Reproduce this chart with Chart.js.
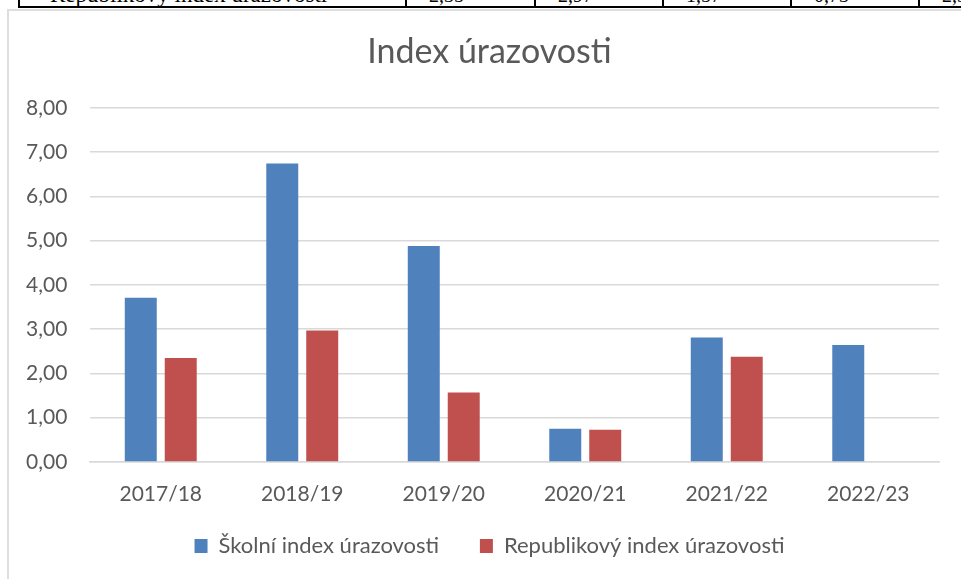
<!DOCTYPE html>
<html lang="cs">
<head>
<meta charset="utf-8">
<title>Index úrazovosti</title>
<script src="https://cdn.jsdelivr.net/npm/chart.js@4/dist/chart.umd.min.js"></script>
<style>
    html, body { margin: 0; padding: 0; background: #fff; }
    body { width: 961px; height: 579px; position: relative; overflow: hidden; }
    #table-strip {
        position: absolute; left: 18px; top: -2px; width: 960px; height: 8px;
        border-left: 2px solid #000; border-bottom: 2px solid #000;
        overflow: hidden; font-family: "Liberation Serif", "DejaVu Serif", serif;
    }
    #table-strip span { position: absolute; top: -13px; line-height: 20px; white-space: nowrap; color: #000; }
    #table-strip .cell-line { position: absolute; top: 0; width: 2px; height: 10px; background: #000; }
    #frame {
        position: absolute; left: 7px; top: 9px; width: 1000px; height: 600px;
        border-left: 2px solid #dedede; border-top: 2px solid #dedede;
    }
    #chartBox { position: absolute; left: 0; top: 0; width: 961px; height: 579px; }
</style>
</head>
<body>
<div id="table-strip"></div>
<div id="frame"></div>
<div id="chartBox"><canvas id="barCanvas"></canvas></div>
<script>
const years = ["2017/18", "2018/19", "2019/20", "2020/21", "2021/22", "2022/23"];
const school_index = [3.71, 6.74, 4.88, 0.75, 2.81, 2.64];
const republic_index = [2.35, 2.97, 1.57, 0.73, 2.38, null];
const y_ticks = [0, 1, 2, 3, 4, 5, 6, 7, 8];

const FONT = "Lato, 'Open Sans', sans-serif";

function formatCz(value) {
    return value.toFixed(2).replace('.', ',');
}

// kousek tabulky nad grafem (oříznutý)
let strip = document.getElementById("table-strip");
let label = document.createElement("span");
label.textContent = "Republikový index úrazovosti";
label.style.left = "30px";
label.style.fontSize = "23px";
strip.appendChild(label);
let dividers = [385, 514, 642, 770, 898];
for (let i = 0; i < dividers.length; i++) {
    let line = document.createElement("div");
    line.className = "cell-line";
    line.style.left = dividers[i] + "px";
    strip.appendChild(line);
    if (republic_index[i] !== null) {
        let val = document.createElement("span");
        val.textContent = formatCz(republic_index[i]);
        val.style.left = (dividers[i] + 24) + "px";
        val.style.fontSize = "20px";
        strip.appendChild(val);
    }
}

Chart.defaults.font.family = FONT;
Chart.defaults.color = "#595959";

barCanvas = document.getElementById("barCanvas");

barChart = new Chart(barCanvas, {
    type: "bar",
    data: {
        labels: years,
        datasets: [{
            label: "Školní index úrazovosti",
            data: school_index,
            backgroundColor: "#4f81bd",
            categoryPercentage: 0.565,
            barPercentage: 0.8
        }, {
            label: "Republikový index úrazovosti",
            data: republic_index,
            backgroundColor: "#c0504d",
            categoryPercentage: 0.565,
            barPercentage: 0.8
        }]
    },
    options: {
        responsive: true,
        maintainAspectRatio: false,
        animation: false,
        layout: { padding: { left: 40, right: 22, top: 10, bottom: 12 } },
        scales: {
            x: {
                grid: { display: false, drawTicks: false },
                border: { display: true, color: "#d9d9d9", width: 1.5 },
                ticks: { font: { size: 21 }, padding: 20, maxRotation: 0, autoSkip: false },
                afterFit: function(axis) { axis.height = 46; }
            },
            y: {
                min: 0,
                max: 8,
                afterBuildTicks: function(axis) {
                    axis.ticks = y_ticks.map(v => ({ value: v }));
                },
                grid: { color: "#d9d9d9", lineWidth: 1.5, drawTicks: false },
                border: { display: false },
                ticks: {
                    font: { size: 21 },
                    mirror: true, // popisky vlevo od osy, bez ořezu
                    padding: -64,
                    callback: function(value) {
                        return formatCz(value);
                    }
                },
                afterFit: function(axis) { axis.width = 50; }
            }
        },
        plugins: {
            title: {
                display: true,
                text: "Index úrazovosti",
                color: "#595959",
                font: { size: 34, weight: "normal" },
                padding: { top: 22, bottom: 35 }
            },
            legend: {
                position: "bottom",
                labels: {
                    boxWidth: 13,
                    boxHeight: 14,
                    padding: 27,
                    font: { size: 22 },
                    color: "#595959",
                    generateLabels: function(chart) {
                        let items = Chart.defaults.plugins.legend.labels.generateLabels(chart);
                        items[0].text = items[0].text + "\u2002\u2009"; // větší mezera mezi položkami
                        return items;
                    }
                }
            },
            tooltip: { enabled: false }
        }
    }
});
</script>
</body>
</html>
